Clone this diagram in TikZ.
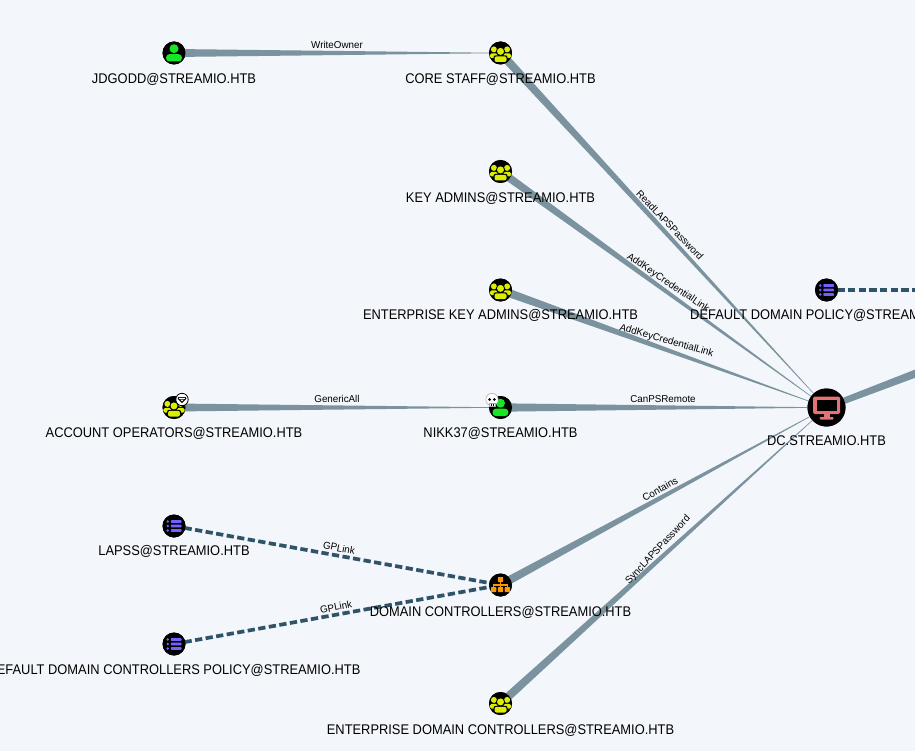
\documentclass[tikz,border=0pt]{standalone}
\usepackage{fontspec}
\setmainfont{Liberation Sans}
\newfontfamily\namefont[FakeStretch=0.92]{Liberation Sans}
\newfontfamily\linkfont[FakeStretch=0.98]{Liberation Sans}
\usetikzlibrary{calc}
\definecolor{pagebg}{HTML}{F3F6FA}
\definecolor{edgecol}{HTML}{7B929F}
\definecolor{dashcol}{HTML}{2F5368}
\definecolor{usergreen}{HTML}{17E625}
\definecolor{groupyellow}{HTML}{DBEE01}
\definecolor{gpoblue}{HTML}{7360FF}
\definecolor{ouorange}{HTML}{FF9800}
\definecolor{pcred}{HTML}{E57373}
\newcommand{\taperedge}[4]{% from, to, half width at from, half width at to
  \fill[edgecol] ($(#1)!#3pt!90:(#2)$) -- ($(#1)!#3pt!-90:(#2)$) -- ($(#2)!#4pt!90:(#1)$) -- ($(#2)!#4pt!-90:(#1)$) -- cycle;}
\tikzset{
  x=1pt,y=-1pt,
  disc/.style={circle,fill=black,minimum size=23pt,inner sep=0pt},
  bigdisc/.style={circle,fill=black,minimum size=38pt,inner sep=0pt},
  namelabel/.style={anchor=base,font=\namefont\fontsize{14}{16}\selectfont,text=black,inner sep=0pt},
  edgelabel/.style={font=\linkfont\fontsize{10}{12}\selectfont,text=black,inner sep=0pt},
  gpedge/.style={draw=dashcol,line width=3.7pt,dash pattern=on 7.3pt off 3.4pt},
  pics/usericon/.style={code={
    \fill[usergreen] (0,-4.3) circle (4.5);
    \fill[usergreen,rounded corners=3pt] (-7.8,8.5) -- (-7.8,1.2) -- (7.8,1.2) -- (7.8,8.5) -- cycle;}},
  pics/groupicon/.style={code={
    \fill[groupyellow] (-6.6,-3.6) circle (3);
    \fill[groupyellow] (6.6,-3.6) circle (3);
    \fill[groupyellow,rounded corners=1.5pt] (-10.6,5) -- (-10.6,0.4) -- (-3,0.4) -- (-3,5) -- cycle;
    \fill[groupyellow,rounded corners=1.5pt] (10.6,5) -- (10.6,0.4) -- (3,0.4) -- (3,5) -- cycle;
    \fill[black] (0,-1.6) circle (4.5);
    \fill[groupyellow] (0,-1.6) circle (3.5);
    \fill[black,rounded corners=2pt] (-7,10) rectangle (7,2.4);
    \fill[groupyellow,rounded corners=2pt] (-6,9) -- (-6,3.4) -- (6,3.4) -- (6,9) -- cycle;}},
  pics/listicon/.style={code={
    \foreach \yy in {-4.5,0,4.5}{
      \fill[gpoblue] (-6.2,\yy) circle (1.4);
      \fill[gpoblue,rounded corners=0.6pt] (-3.2,\yy-1.3) rectangle (7.5,\yy+1.3);}}},
  pics/orgicon/.style={code={
    \fill[ouorange,rounded corners=0.6pt] (-2.6,-8) rectangle (2.6,-3);
    \fill[ouorange] (-0.7,-3) rectangle (0.7,1.5);
    \fill[ouorange] (-7.5,-0.7) rectangle (7.5,0.7);
    \fill[ouorange] (-7.5,-0.7) rectangle (-6.1,2);
    \fill[ouorange] (7.5,-0.7) rectangle (6.1,2);
    \foreach \xx in {-6.8,0,6.8}{
      \fill[ouorange,rounded corners=0.6pt] (\xx-2.6,2) rectangle (\xx+2.6,7);}}},
  pics/pcicon/.style={code={
    \fill[pcred,rounded corners=1.5pt] (-13.5,-11) rectangle (13.5,6.5);
    \fill[black] (-10,-8) rectangle (10,3.5);
    \fill[pcred] (-3,6.5) rectangle (3,10);
    \fill[pcred,rounded corners=1pt] (-7,9.5) rectangle (7,12);}},
  pics/skullbadge/.style={code={
    \fill[white,draw=black!35,line width=0.5pt] (0,-0.5) circle (6.2);
    \fill[white,draw=black!35,line width=0.5pt] (-3,3.5) rectangle (3,6);
    \fill[black] (-2.4,-0.5) circle (1.5);
    \fill[black] (2.4,-0.5) circle (1.5);
    \fill[black] (-1,4) rectangle (-0.5,6);
    \fill[black] (0.5,4) rectangle (1,6);}},
  pics/gembadge/.style={code={
    \fill[white,draw=black,line width=0.8pt] (0,0) circle (6.2);
    \fill[black] (-3.5,-2.5) -- (3.5,-2.5) -- (4.5,-0.8) -- (0,3.6) -- (-4.5,-0.8) -- cycle;
    \fill[white] (-2.8,-1.7) -- (2.8,-1.7) -- (3.2,-0.7) -- (-3.2,-0.7) -- cycle;
    \fill[white] (-1.8,0) -- (1.8,0) -- (0,2) -- cycle;}},
}
\begin{document}
\begin{tikzpicture}
\clip (0,0) rectangle (915,751);
\fill[pagebg] (0,0) rectangle (915,751);
\useasboundingbox (0,0) rectangle (915,751);

% node discs
\node[disc] (jd) at (174,53) {};
\node[disc] (core) at (500.5,53) {};
\node[disc] (key) at (500.5,171.5) {};
\node[disc] (eka) at (500.5,290) {};
\node[disc] (aop) at (174,407.5) {};
\node[disc] (nikk) at (500.5,407.5) {};
\node[bigdisc] (dc) at (826.5,407.5) {};
\node[disc] (lapss) at (174,526) {};
\node[disc] (ddcp) at (174,644) {};
\node[disc] (ou) at (500.5,585) {};
\node[disc] (edc) at (500.5,703.5) {};
\node[disc] (ddp) at (826.5,290) {};
\coordinate (ddpout) at (930,290);
\coordinate (dcout) at (930,368);

% connectors
\taperedge{jd.center}{core.center}{4}{0.15}
\taperedge{core.center}{dc.center}{4.2}{0.1}
\taperedge{key.center}{dc.center}{4}{0.1}
\taperedge{eka.center}{dc.center}{4.2}{0.1}
\taperedge{aop.center}{nikk.center}{4}{0.15}
\taperedge{nikk.center}{dc.center}{4.2}{0.1}
\taperedge{ou.center}{dc.center}{4.2}{0.1}
\taperedge{edc.center}{dc.center}{4.2}{0.1}
\taperedge{dc.center}{dcout}{3}{4}
\draw[gpedge] (lapss.center) -- (ou.center);
\draw[gpedge] (ddcp.center) -- (ou.center);
\draw[gpedge] (ddp.center) -- (ddpout);

% discs again, above the connectors
\foreach \n in {jd,core,key,eka,aop,nikk,lapss,ddcp,ou,edc,ddp}{\fill[black] (\n.center) circle (11.5);}
\fill[black] (dc.center) circle (19);

% icons
\pic at (jd) {usericon};
\pic at (nikk) {usericon};
\pic at (core) {groupicon};
\pic at (key) {groupicon};
\pic at (eka) {groupicon};
\pic at (aop) {groupicon};
\pic at (edc) {groupicon};
\pic at (lapss) {listicon};
\pic at (ddcp) {listicon};
\pic at (ddp) {listicon};
\pic at (ou) {orgicon};
\pic at (dc) {pcicon};
\pic at ($(nikk)+(-8.5,-7.5)$) {skullbadge};
\pic at ($(aop)+(8,-8)$) {gembadge};

% names
\node[namelabel] (ljd) at (174,83.3) {JDGODD@STREAMIO.HTB};
\node[namelabel] (lcore) at (500.5,83.3) {CORE STAFF@STREAMIO.HTB};
\node[namelabel] (lkey) at (500.5,202.3) {KEY ADMINS@STREAMIO.HTB};
\node[namelabel] (leka) at (500.5,319.8) {ENTERPRISE KEY ADMINS@STREAMIO.HTB};
\node[namelabel] (laop) at (174,437.8) {ACCOUNT OPERATORS@STREAMIO.HTB};
\node[namelabel] (lnikk) at (500.5,437.8) {NIKK37@STREAMIO.HTB};
\node[namelabel] (ldc) at (826.5,445.8) {DC.STREAMIO.HTB};
\node[namelabel] (llapss) at (174,555.8) {LAPSS@STREAMIO.HTB};
\node[namelabel] (lddcp) at (174,674.8) {DEFAULT DOMAIN CONTROLLERS POLICY@STREAMIO.HTB};
\node[namelabel] (lou) at (500.5,616.8) {DOMAIN CONTROLLERS@STREAMIO.HTB};
\node[namelabel] (ledc) at (500.5,734.8) {ENTERPRISE DOMAIN CONTROLLERS@STREAMIO.HTB};
\node[namelabel] (lddp) at (826.5,319.8) {DEFAULT DOMAIN POLICY@STREAMIO.HTB};

% connector labels
\node[edgelabel] (e1) at (337,45) {WriteOwner};
\node[edgelabel,rotate=-46] (e2) at (670,225) {ReadLAPSPassword};
\node[edgelabel,rotate=-34] (e3) at (668,283) {AddKeyCredentialLink};
\node[edgelabel,rotate=-16] (e4) at (666.5,341) {AddKeyCredentialLink};
\node[edgelabel] (e5) at (337,399) {GenericAll};
\node[edgelabel] (e6) at (663,399) {CanPSRemote};
\node[edgelabel,rotate=29] (e7) at (660,489) {Contains};
\node[edgelabel,rotate=47] (e8) at (658,550) {SyncLAPSPassword};
\node[edgelabel,rotate=-11] (e9) at (339,548) {GPLink};
\node[edgelabel,rotate=11] (e10) at (336,607) {GPLink};
\end{tikzpicture}
\end{document}
